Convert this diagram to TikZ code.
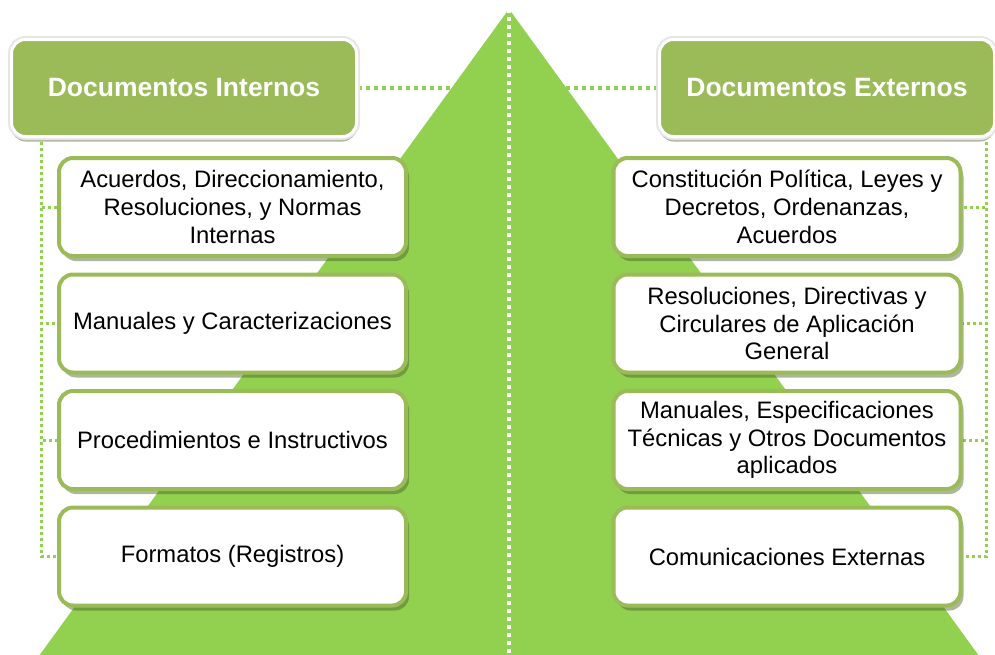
\documentclass[tikz,border=0pt]{standalone}
\usepackage{fontspec}
\setmainfont{Liberation Sans}
\usetikzlibrary{shadows,backgrounds}
\definecolor{olivegr}{RGB}{155,187,89}
\definecolor{lgreen}{RGB}{146,208,80}
\definecolor{shc}{RGB}{70,95,40}
\begin{document}
\begin{tikzpicture}[x=1pt,y=-1pt,
  itembox/.style={draw=olivegr, line width=4pt, fill=white, rounded corners=14pt,
    minimum width=347pt, minimum height=98pt, align=center, inner sep=2pt,
    font=\fontsize{23.8}{27.8}\selectfont,
    drop shadow={shadow xshift=3pt, shadow yshift=-5pt, fill=shc, opacity=0.45}},
  hdrbox/.style={fill=olivegr, draw=white, line width=3pt, rounded corners=14pt,
    minimum height=97pt, text=white, inner sep=2pt,
    font=\fontsize{26.5}{30}\selectfont\bfseries,
    drop shadow={shadow xshift=0pt, shadow yshift=-5pt, fill=shc, opacity=0.45},
    preaction={draw=black!10, line width=7pt}},
  topdot/.style={draw=lgreen, line width=4pt, dash pattern=on 4pt off 4pt},
  middot/.style={draw=white, line width=4pt, dash pattern=on 4pt off 4pt},
  sidedot/.style={draw=lgreen, line width=3pt, dash pattern=on 3pt off 3pt}]
\useasboundingbox (0,0) rectangle (995,654);
\clip (0,0) rectangle (995,654);

% triangle
\fill[lgreen] (509,9) coordinate (apex) -- (982,660) -- (36,660) -- cycle;
\coordinate (base) at (509,660);
\draw[middot] (apex) -- (base);

% headers
\node[hdrbox, minimum width=345pt] (hdrL) at (184,88) {Documentos Internos};
\node[hdrbox, minimum width=335pt] (hdrR) at (827,88) {Documentos Externos};

% left items
\node[itembox] (l1) at (232.5,207) {Acuerdos, Direccionamiento,\\Resoluciones, y Normas\\Internas};
\node[itembox] (l2) at (232.5,323.5) {Manuales y Caracterizaciones};
\node[itembox] (l3) at (232.5,440) {Procedimientos e Instructivos};
\node[itembox] (l4) at (232.5,556.5) {Formatos (Registros)};

% right items
\node[itembox] (r1) at (787,207) {Constitución Política, Leyes y\\Decretos, Ordenanzas,\\Acuerdos};
\node[itembox] (r2) at (787,323.5) {Resoluciones, Directivas y\\Circulares de Aplicación\\General};
\node[itembox] (r3) at (787,440) {Manuales, Especificaciones\\Técnicas y Otros Documentos\\aplicados};
\node[itembox] (r4) at (787,556.5) {Comunicaciones Externas};

\begin{pgfonlayer}{background}
  \draw[topdot] (hdrL.east) -- (hdrR.west);
  \foreach \b in {l1,l2,l3,l4}
    \draw[sidedot] ([xshift=31pt,yshift=-4pt]hdrL.south west) |- (\b.west);
  \foreach \b in {r1,r2,r3,r4}
    \draw[sidedot] ([xshift=-10pt,yshift=-4pt]hdrR.south east) |- (\b.east);
\end{pgfonlayer}
\end{tikzpicture}
\end{document}
